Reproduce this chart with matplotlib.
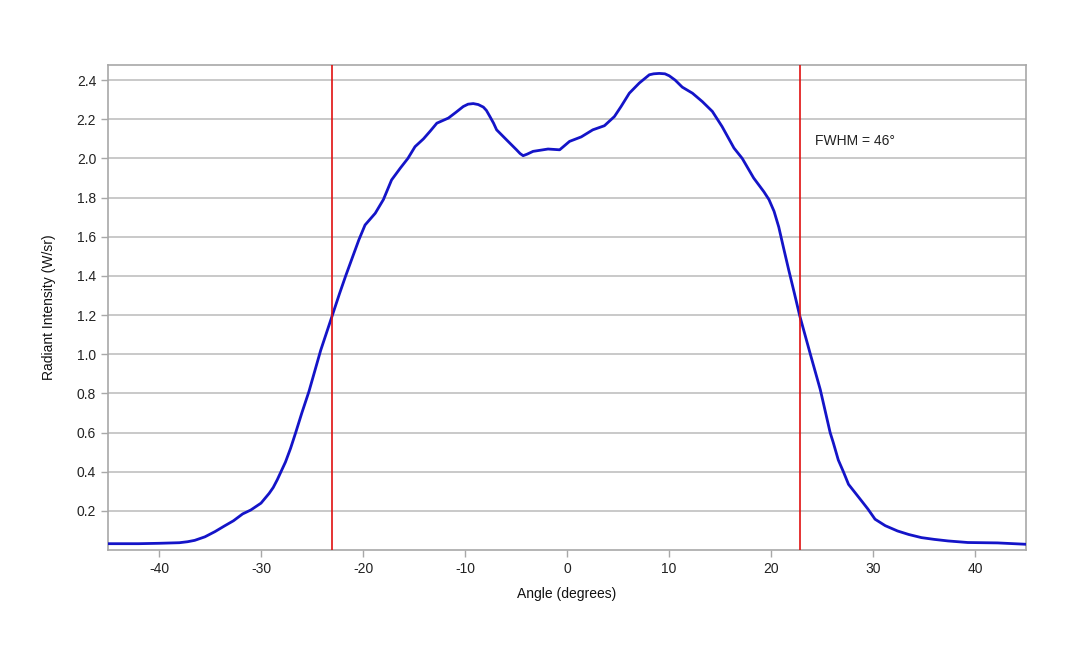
import matplotlib
matplotlib.use("Agg")
import matplotlib.pyplot as plt

angles = [-45, -42, -40, -38, -37.2, -36.5, -35.5, -34.5, -33.6, -32.7, -31.8, -31.0, -30.0,
          -29.6, -29.2, -28.8, -28.4, -27.6, -27.1, -26.6, -26.0, -25.3, -24.15, -23.0,
          -22.3, -21.7, -21.0, -20.4, -19.8, -19.3, -18.8, -18.0, -17.2, -16.35, -15.6,
          -14.9, -14.07, -13.4, -12.76, -11.63, -10.9, -10.17, -9.7, -9.19, -8.7, -8.2,
          -7.9, -7.56, -7.2, -6.9, -5.93, -4.95, -4.6, -4.3, -3.9, -3.33, -1.86, -0.72,
          0.25, 1.4, 2.53, 3.67, 4.65, 5.3, 6.11, 7.09, 8.07, 8.5, 9.04, 9.6, 10.02, 10.6,
          11.3, 12.3, 13.27, 14.25, 15.2, 16.37, 17.18, 18.3, 19.3, 19.8, 20.3, 20.76,
          21.2, 21.74, 22.3, 22.8, 23.86, 24.83, 25.8, 26.1, 26.6, 27.1, 27.6, 28.9, 29.5,
          30.2, 31.2, 32.4, 33.5, 34.75, 36.0, 37.36, 39.3, 42.2, 45]
intensity = [0.033, 0.033, 0.035, 0.038, 0.043, 0.05, 0.068, 0.095, 0.123, 0.15, 0.185, 0.205, 0.24,
             0.265, 0.29, 0.32, 0.36, 0.45, 0.52, 0.6, 0.7, 0.81, 1.02, 1.2,
             1.31, 1.4, 1.5, 1.585, 1.66, 1.69, 1.72, 1.79, 1.89, 1.95, 2.0,
             2.06, 2.10, 2.14, 2.18, 2.206, 2.235, 2.265, 2.277, 2.28, 2.275, 2.262,
             2.245, 2.214, 2.18, 2.146, 2.095, 2.044, 2.025, 2.014, 2.022, 2.036, 2.048, 2.044,
             2.087, 2.11, 2.146, 2.167, 2.214, 2.265, 2.333, 2.385, 2.427, 2.432, 2.434, 2.432, 2.422, 2.4,
             2.364, 2.333, 2.29, 2.24, 2.163, 2.053, 2.0, 1.9, 1.83, 1.79, 1.73, 1.65,
             1.55, 1.43, 1.31, 1.2, 1.0, 0.82, 0.6, 0.55, 0.46, 0.4, 0.336, 0.25, 0.21,
             0.158, 0.125, 0.098, 0.08, 0.064, 0.055, 0.047, 0.039, 0.037, 0.030]
fwhm_lines = [-23.0, 22.8]
x_ticks = [-40, -30, -20, -10, 0, 10, 20, 30, 40]
y_ticks = [0.2, 0.4, 0.6, 0.8, 1.0, 1.2, 1.4, 1.6, 1.8, 2.0, 2.2, 2.4]

plt.rcParams['font.family'] = ['Liberation Sans', 'DejaVu Sans']

fig = plt.figure(figsize=(10.8, 6.48), dpi=100)
ax = fig.add_axes([0.1, 0.151, 0.85, 0.749])

ax.plot(angles, intensity, color='#1414c8', lw=2.0, zorder=3,
        solid_joinstyle='round', solid_capstyle='round')
for xv in fwhm_lines:
    ax.axvline(xv, color='#e01010', lw=1.2, zorder=4)

ax.set_xlim(-45, 45)
ax.set_ylim(0, 2.478)
ax.set_xticks(x_ticks)
ax.set_xticklabels([str(v) for v in x_ticks])
ax.set_yticks(y_ticks)
ax.set_yticklabels([f"{v:.1f}" for v in y_ticks])
ax.yaxis.grid(True, color='#c0c0c0', lw=1.2)
ax.set_axisbelow(True)
for s in ax.spines.values():
    s.set_color('#a8a8a8')
    s.set_linewidth(1.2)
ax.tick_params(axis='both', colors='#a8a8a8', labelcolor='#222222', labelsize=10, length=5, width=1)

ax.text(24.3, 2.09, "FWHM = 46°", fontsize=10, color='#222222', va='center', ha='left')
ax.set_xlabel("Angle (degrees)", fontsize=10, color='#111111', labelpad=8)
ax.set_ylabel("Radiant Intensity (W/sr)", fontsize=10, color='#111111', labelpad=15)

fig.savefig("out.png", dpi=100)
